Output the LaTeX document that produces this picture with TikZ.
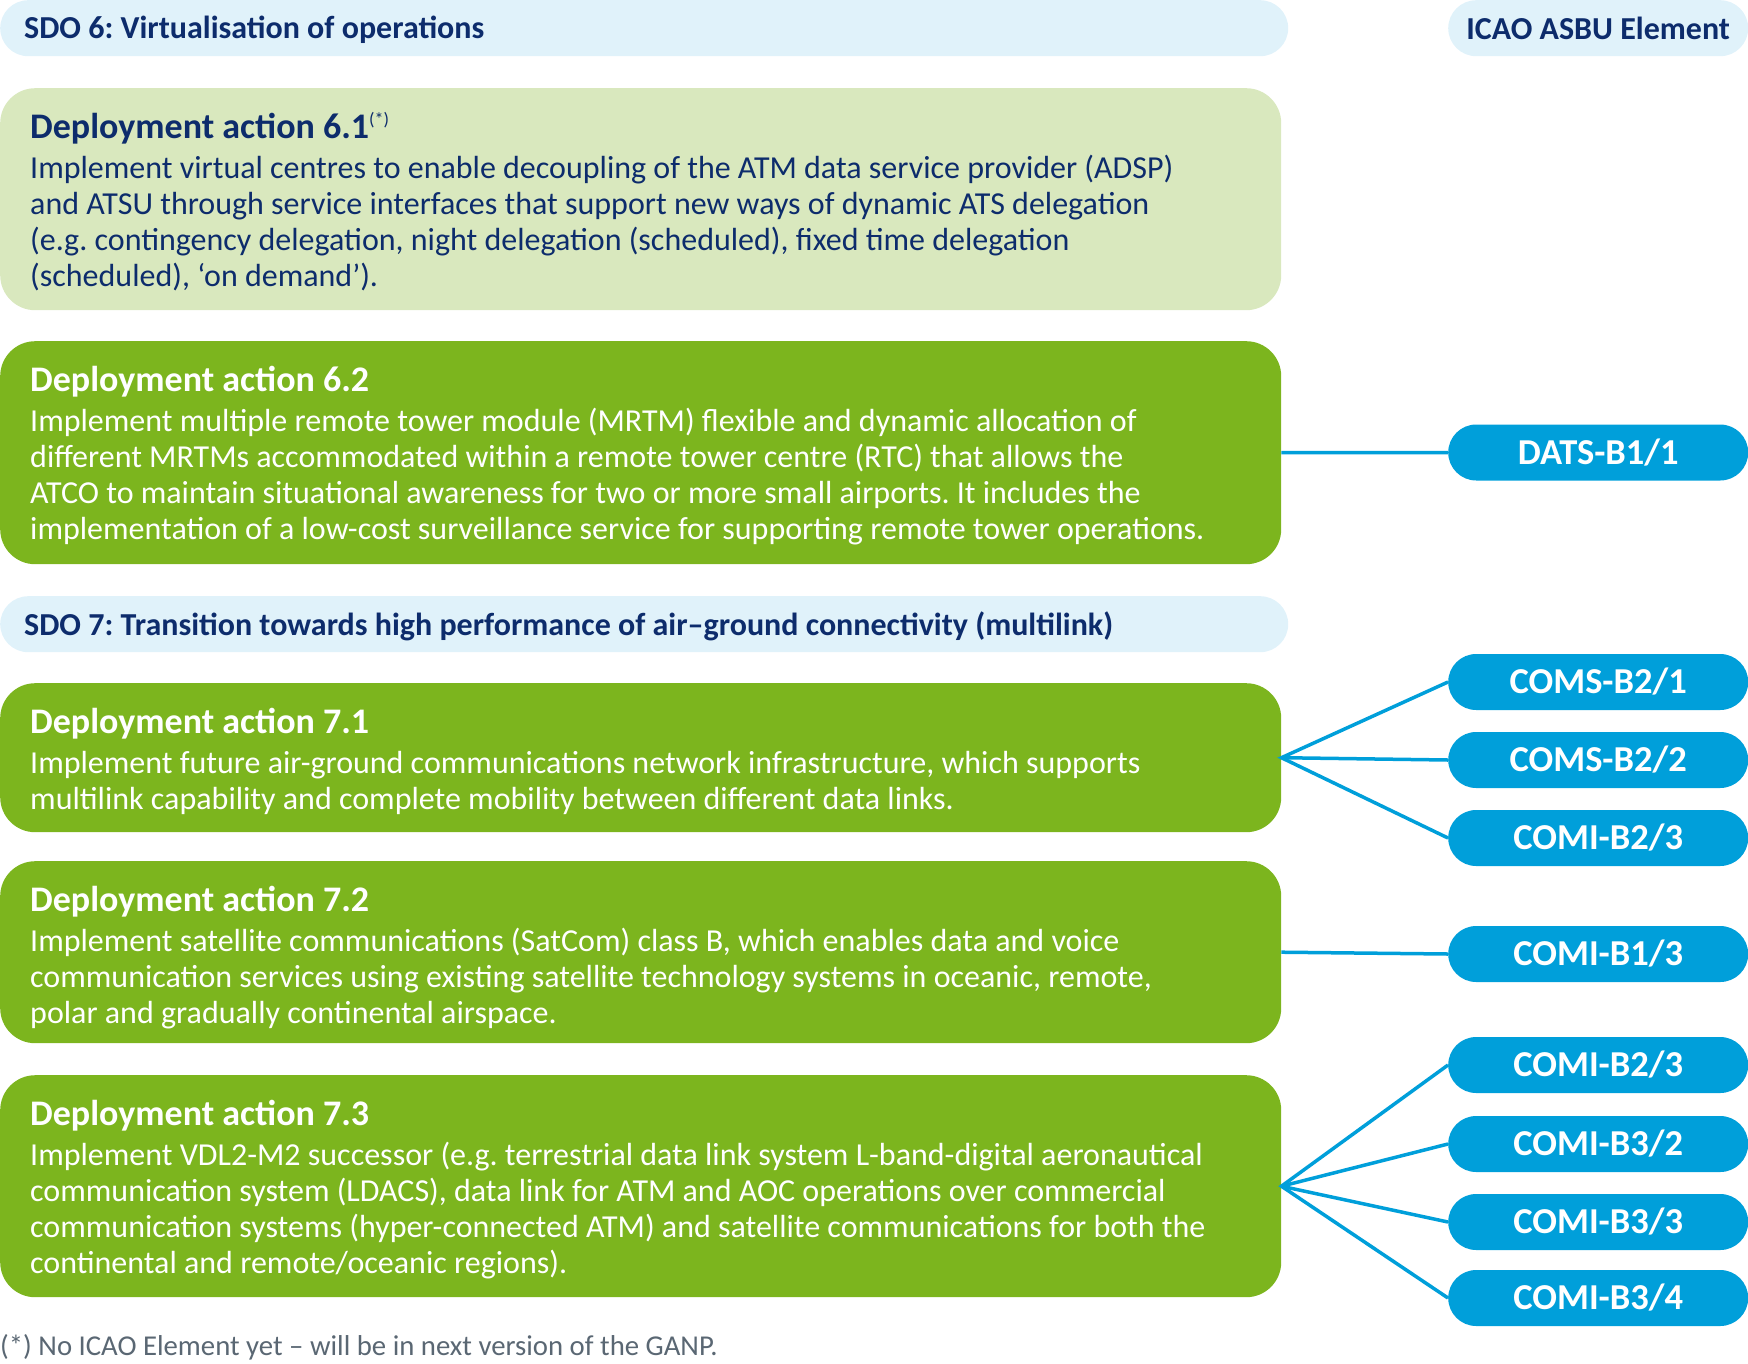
\documentclass[tikz,border=0pt]{standalone}
\usepackage{fontspec}
\setmainfont{Carlito}
\frenchspacing
\definecolor{navy}{HTML}{0D2C6C}
\definecolor{hdrblue}{HTML}{E0F2FA}
\definecolor{lgreen}{HTML}{D9E8BE}
\definecolor{dgreen}{HTML}{7CB51E}
\definecolor{pillblue}{HTML}{009FDA}
\definecolor{footgray}{HTML}{5A6773}
\newcommand{\bodytext}[1]{\parbox[t]{1250pt}{\raggedright #1}}
\tikzset{
  hdrbar/.style={fill=hdrblue, draw=none, rounded corners=28pt, rectangle, inner sep=0pt, minimum height=56pt, anchor=north west},
  hdrtext/.style={anchor=base west, inner sep=0pt, text=navy, font=\fontsize{32}{38}\selectfont\bfseries},
  dabox/.style={draw=none, rounded corners=35pt, rectangle, inner sep=0pt, minimum width=1281pt, anchor=north west},
  datitle/.style={anchor=base west, inner sep=0pt, font=\fontsize{36}{42}\selectfont\bfseries},
  dabody/.style={anchor=base west, inner sep=0pt, font=\fontsize{32}{36}\selectfont},
  pill/.style={fill=pillblue, draw=none, rounded corners=28pt, rectangle, inner sep=0pt, minimum width=300pt, minimum height=56pt, anchor=west, text=white, font=\fontsize{36.5}{42}\selectfont\bfseries},
  conn/.style={draw=pillblue, line width=3.5pt}
}
\begin{document}
\begin{tikzpicture}[x=1pt,y=-1pt]
\useasboundingbox (0,0) rectangle (1748,1363);
% headers
\node[hdrbar, minimum width=1288pt] (sdo6) at (0,0) {};
\node[hdrtext] (sdo6t) at (24,38) {SDO 6: Virtualisation of operations};
\node[hdrbar, minimum width=300pt, text=navy, font=\fontsize{32}{38}\selectfont\bfseries] (icao) at (1448,0) {ICAO ASBU Element};
\node[hdrbar, minimum width=1288pt] (sdo7) at (0,596) {};
\node[hdrtext] (sdo7t) at (24,635) {SDO 7: Transition towards high performance of air--ground connectivity (multilink)};
% deployment action boxes
\node[dabox, fill=lgreen, minimum height=222pt] (b61) at (0,88) {};
\node[datitle, text=navy] (b61t) at (30,138) {Deployment action 6.1\raisebox{13pt}{\fontsize{18}{20}\selectfont\mdseries(*)}};
\node[dabody, text=navy] (b61b) at (30,178) {\bodytext{Implement virtual centres to enable decoupling of the ATM data service provider (ADSP)\\
and ATSU through service interfaces that support new ways of dynamic ATS delegation\\
(e.g. contingency delegation, night delegation (scheduled), fixed time delegation\\
(scheduled), ‘on demand’).}};

\node[dabox, fill=dgreen, minimum height=223pt] (b62) at (0,341) {};
\node[datitle, text=white] (b62t) at (30,391) {Deployment action 6.2};
\node[dabody, text=white] (b62b) at (30,431) {\bodytext{Implement multiple remote tower module (MRTM) flexible and dynamic allocation of\\
different MRTMs accommodated within a remote tower centre (RTC) that allows the\\
ATCO to maintain situational awareness for two or more small airports. It includes the\\
implementation of a low-cost surveillance service for supporting remote tower operations.}};

\node[dabox, fill=dgreen, minimum height=149pt] (b71) at (0,683) {};
\node[datitle, text=white] (b71t) at (30,733) {Deployment action 7.1};
\node[dabody, text=white] (b71b) at (30,773) {\bodytext{Implement future air-ground communications network infrastructure, which supports\\
multilink capability and complete mobility between different data links.}};

\node[dabox, fill=dgreen, minimum height=182pt] (b72) at (0,861) {};
\node[datitle, text=white] (b72t) at (30,911) {Deployment action 7.2};
\node[dabody, text=white] (b72b) at (30,951) {\bodytext{Implement satellite communications (SatCom) class B, which enables data and voice\\
communication services using existing satellite technology systems in oceanic, remote,\\
polar and gradually continental airspace.}};

\node[dabox, fill=dgreen, minimum height=222pt] (b73) at (0,1075) {};
\node[datitle, text=white] (b73t) at (30,1125) {Deployment action 7.3};
\node[dabody, text=white] (b73b) at (30,1165) {\bodytext{Implement VDL2-M2 successor (e.g. terrestrial data link system L-band-digital aeronautical\\
communication system (LDACS), data link for ATM and AOC operations over commercial\\
communication systems (hyper-connected ATM) and satellite communications for both the\\
continental and remote/oceanic regions).}};

% pills
\node[pill] (p1) at (1448,452.5) {DATS-B1/1};
\node[pill] (p2) at (1448,682) {COMS-B2/1};
\node[pill] (p3) at (1448,760) {COMS-B2/2};
\node[pill] (p4) at (1448,838) {COMI-B2/3};
\node[pill] (p5) at (1448,954) {COMI-B1/3};
\node[pill] (p6) at (1448,1065) {COMI-B2/3};
\node[pill] (p7) at (1448,1144) {COMI-B3/2};
\node[pill] (p8) at (1448,1222) {COMI-B3/3};
\node[pill] (p9) at (1448,1298) {COMI-B3/4};

% connectors
\draw[conn] (b62.east) -- (p1.west);
\draw[conn, line join=miter] (p2.west) -- (b71.east) -- (p4.west);
\draw[conn] (b71.east) -- (p3.west);
\draw[conn] (b72.east) -- (p5.west);
\draw[conn] (p6.west) -- (b73.east) -- (p9.west);
\draw[conn] (b73.east) -- (p7.west);
\draw[conn] (b73.east) -- (p8.west);

% footnote
\node[anchor=base west, inner sep=0pt, text=footgray, font=\fontsize{28.75}{33}\selectfont] (fn) at (0,1355) {(*) No ICAO Element yet -- will be in next version of the GANP.};
\end{tikzpicture}
\end{document}
